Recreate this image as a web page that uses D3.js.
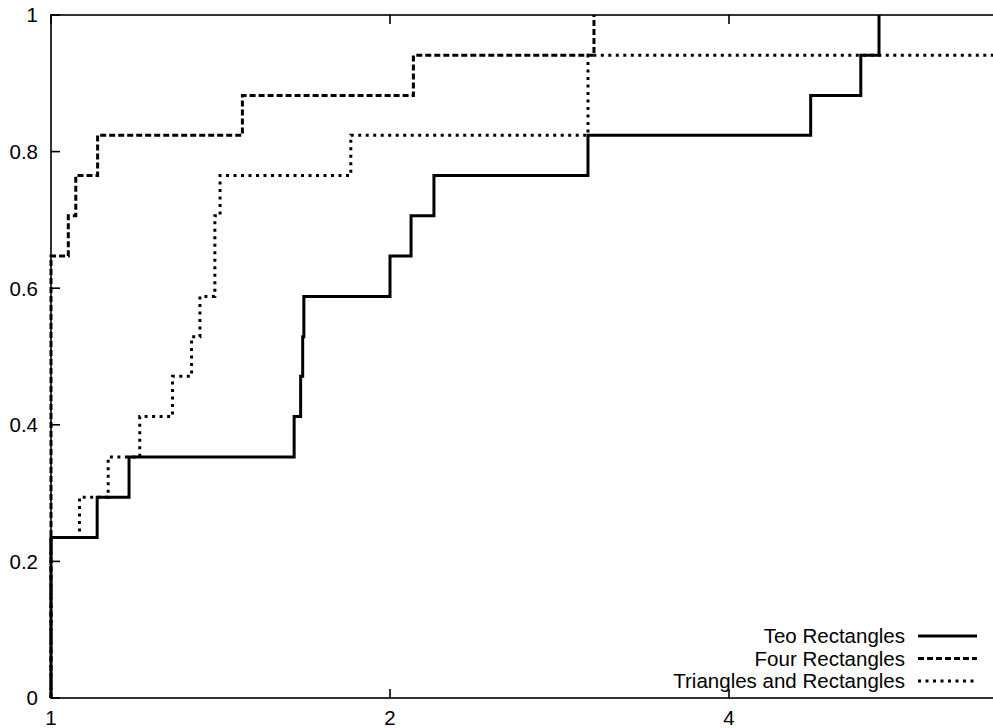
<!DOCTYPE html>
<html>
<head>
<meta charset="utf-8">
<script src="https://cdn.jsdelivr.net/npm/d3@7"></script>
<style>
  html, body { margin: 0; padding: 0; background: #fff; }
  svg { display: block; }
  text { font-family: "Liberation Sans", Arial, Helvetica, sans-serif; fill: #000; }
</style>
</head>
<body>
<svg id="chart" width="993" height="728"></svg>
<script>
// ---- data ----
const seriesNames = ["Teo Rectangles", "Four Rectangles", "Triangles and Rectangles"];

const teoX = [1, 1.099, 1.173, 1.644, 1.666, 1.673, 1.677, 2.0, 2.088, 2.188, 2.998, 4.727, 5.237, 5.436];
const teoY = [0.235, 0.294, 0.353, 0.412, 0.471, 0.529, 0.588, 0.647, 0.706, 0.765, 0.824, 0.882, 0.941, 1.0];

const fourX = [1, 1.036, 1.052, 1.100, 1.479, 2.098, 3.035];
const fourY = [0.647, 0.706, 0.765, 0.824, 0.882, 0.941, 1.0];

const triX = [1, 1.060, 1.124, 1.199, 1.282, 1.333, 1.356, 1.398, 1.413, 1.846, 2.998];
const triY = [0.235, 0.294, 0.353, 0.412, 0.471, 0.529, 0.588, 0.706, 0.765, 0.824, 0.941];

const xTicks = [1, 2, 4];
const yTicks = [0, 0.2, 0.4, 0.6, 0.8, 1];
const xDomain = [1, 7];
const yDomain = [0, 1];

// ---- layout ----
const svg = d3.select("#chart");
const pLeft = 51, pTop = 15, pBottom = 698;
const pxPerOctave = 339;
const pRight = pLeft + pxPerOctave * Math.log2(xDomain[1]);

const x = d3.scaleLog().base(2).domain(xDomain).range([pLeft, pRight]);
const y = d3.scaleLinear().domain(yDomain).range([pBottom, pTop]);

const fontSize = 20.5;

// series
function pts(xs, ys) {
  const p = [[xs[0], 0]];
  xs.forEach((v, i) => p.push([v, ys[i]]));
  if (ys[ys.length - 1] < yDomain[1]) p.push([xDomain[1], ys[ys.length - 1]]);
  return p;
}
const line = d3.line().x(d => x(d[0])).y(d => y(d[1])).curve(d3.curveStepAfter);

const styles = [
  { dash: null },
  { dash: "6,3" },
  { dash: "3,4.5" }
];
const data = [pts(teoX, teoY), pts(fourX, fourY), pts(triX, triY)];

// draw dotted first, then dashed, then solid
[2, 1, 0].forEach(i => {
  svg.append("path").attr("d", line(data[i]))
    .attr("fill", "none").attr("stroke", "#000").attr("stroke-width", 3)
    .attr("stroke-linejoin", "miter").attr("stroke-linecap", "butt")
    .attr("stroke-dasharray", styles[i].dash);
});

// frame
svg.append("rect")
  .attr("x", pLeft).attr("y", pTop)
  .attr("width", pRight - pLeft).attr("height", pBottom - pTop)
  .attr("fill", "none").attr("stroke", "#000").attr("stroke-width", 1.6);

// x ticks (inward bottom and top)
const tickLen = 9;
xTicks.forEach(t => {
  const px = x(t);
  svg.append("line").attr("x1", px).attr("x2", px).attr("y1", pBottom).attr("y2", pBottom - tickLen)
    .attr("stroke", "#000").attr("stroke-width", 1.6);
  svg.append("line").attr("x1", px).attr("x2", px).attr("y1", pTop).attr("y2", pTop + tickLen)
    .attr("stroke", "#000").attr("stroke-width", 1.6);
  svg.append("text").attr("x", px).attr("y", 725)
    .attr("text-anchor", "middle").attr("font-size", fontSize)
    .text(d3.format("d")(t));
});

// y ticks (inward left and right)
yTicks.forEach(t => {
  const py = y(t);
  svg.append("line").attr("x1", pLeft).attr("x2", pLeft + tickLen).attr("y1", py).attr("y2", py)
    .attr("stroke", "#000").attr("stroke-width", 1.6);
  svg.append("line").attr("x1", pRight).attr("x2", pRight - tickLen).attr("y1", py).attr("y2", py)
    .attr("stroke", "#000").attr("stroke-width", 1.6);
  svg.append("text").attr("x", pLeft - 13).attr("y", py).attr("dy", "0.36em")
    .attr("text-anchor", "end").attr("font-size", fontSize)
    .text(t === 0 ? "0" : t === 1 ? "1" : d3.format(".1f")(t));
});

// legend
const legTextX = 905, legX1 = 918, legX2 = 977;
const legY0 = 636, legDy = 22.5;
seriesNames.forEach((name, i) => {
  const ly = legY0 + i * legDy;
  svg.append("text").attr("x", legTextX).attr("y", ly).attr("dy", "0.36em")
    .attr("text-anchor", "end").attr("font-size", fontSize).text(name);
  svg.append("line").attr("x1", legX1).attr("x2", legX2).attr("y1", ly).attr("y2", ly)
    .attr("stroke", "#000").attr("stroke-width", 3)
    .attr("stroke-dasharray", styles[i].dash);
});
</script>
</body>
</html>
